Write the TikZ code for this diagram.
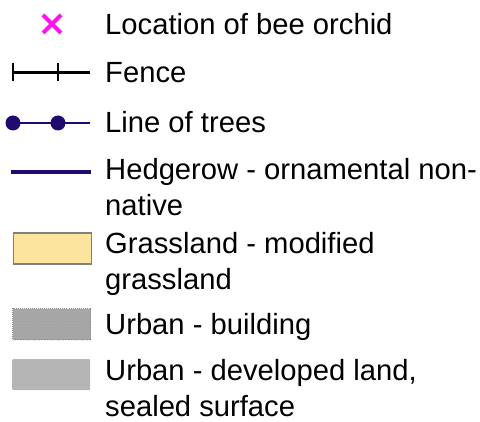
\documentclass[tikz,border=0pt]{standalone}
\usepackage{fontspec}
\setmainfont{Liberation Sans}
\usetikzlibrary{patterns}
\definecolor{indigoline}{RGB}{32,10,112}
\definecolor{orchid}{RGB}{250,20,240}
\definecolor{grassfill}{RGB}{253,228,158}
\definecolor{grassedge}{RGB}{128,128,128}
\definecolor{bldfill}{RGB}{168,168,168}
\definecolor{bldedge}{RGB}{140,140,140}
\definecolor{devfill}{RGB}{181,181,181}
\begin{document}
\begin{tikzpicture}[x=1pt,y=-1pt,
  lbl/.style={anchor=base west,inner sep=0pt,font=\fontsize{29.2}{36}\selectfont},
  swatch/.style={minimum width=78pt,minimum height=31pt,inner sep=0pt,anchor=north west}]
\useasboundingbox (0,0) rectangle (480,422);
% 1 bee orchid
\coordinate (xc) at (52,24);
\draw[orchid,line width=4pt] ([shift={(-9,-9)}]xc) -- ([shift={(9,9)}]xc)
  ([shift={(-9,9)}]xc) -- ([shift={(9,-9)}]xc);
\node[lbl] (t1) at (105,35) {Location of bee orchid};
% 2 fence
\coordinate (f0) at (13,72.5);
\coordinate (f1) at (58,72.5);
\coordinate (f2) at (90,72.5);
\draw[black,line width=2.6pt] (f0) -- (f2);
\draw[black,line width=2.8pt] ([yshift=-8.5]f0) -- ([yshift=9]f0)
  ([yshift=-8.5]f1) -- ([yshift=9]f1);
\node[lbl] (t2) at (105,83) {Fence};
% 3 line of trees
\coordinate (l0) at (13,123);
\coordinate (l1) at (58,123);
\coordinate (l2) at (90,123);
\draw[indigoline,line width=2.8pt] (l0) -- (l2);
\fill[indigoline] (l0) circle (7.5) (l1) circle (7.5);
\node[lbl] (t3) at (105,133) {Line of trees};
% 4 hedgerow
\coordinate (h0) at (11,172);
\coordinate (h1) at (91,172);
\draw[indigoline,line width=4pt] (h0) -- (h1);
\node[lbl] (t4a) at (105,180) {Hedgerow - ornamental non-};
\node[lbl] (t4b) at (105,216) {native};
% 5 grassland
\node[swatch,fill=grassfill,draw=grassedge,line width=1.5pt] (s5) at (12.5,232.5) {};
\node[lbl] (t5a) at (105,254) {Grassland - modified};
\node[lbl] (t5b) at (105,290) {grassland};
% 6 urban building
\node[swatch,fill=bldfill,draw=bldedge,line width=1pt,densely dotted] (s6) at (12,308.5) {};
\fill[pattern=crosshatch dots,pattern color=gray!75] (s6.north west) rectangle (s6.south east);
\node[lbl] (t6) at (105,335) {Urban - building};
% 7 urban developed
\node[swatch,fill=devfill,rounded corners=1pt] (s7) at (12,359) {};
\node[lbl] (t7a) at (105,381) {Urban - developed land,};
\node[lbl] (t7b) at (105,417) {sealed surface};
\end{tikzpicture}
\end{document}
